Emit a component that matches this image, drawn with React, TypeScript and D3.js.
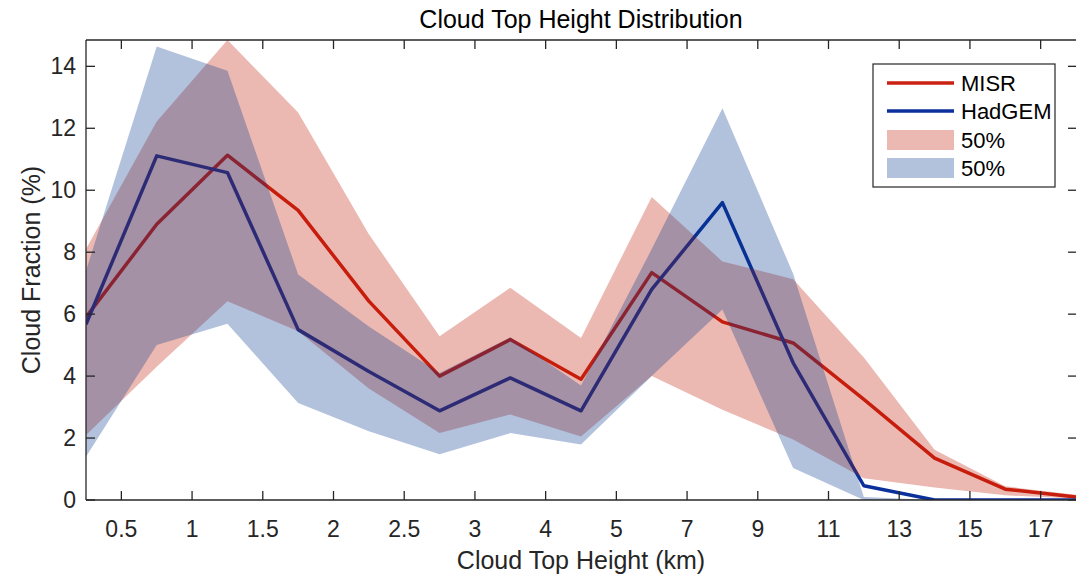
import React from 'react';
import * as d3 from 'd3';

// bin edges (index positions) where the values are plotted
const binIndex = [0, 1, 2, 3, 4, 5, 6, 7, 8, 9, 10, 11, 12, 13, 14];
// x tick positions (bin centres) and their labels (km)
const xTickPos = [0.5, 1.5, 2.5, 3.5, 4.5, 5.5, 6.5, 7.5, 8.5, 9.5, 10.5, 11.5, 12.5, 13.5];
const xTickLabels = ['0.5', '1', '1.5', '2', '2.5', '3', '4', '5', '7', '9', '11', '13', '15', '17'];
const yTicks = [0, 2, 4, 6, 8, 10, 12, 14];

// MISR
const misrMean = [5.9, 8.9, 11.13, 9.35, 6.42, 4.0, 5.18, 3.9, 7.34, 5.75, 5.07, 3.25, 1.35, 0.35, 0.1];
const misrHigh = [8.1, 12.22, 14.85, 12.51, 8.58, 5.29, 6.85, 5.23, 9.78, 7.7, 7.13, 4.6, 1.62, 0.44, 0.17];
const misrLow = [2.1, 4.3, 6.42, 5.45, 3.6, 2.16, 2.76, 2.05, 4.0, 2.91, 1.95, 0.7, 0.4, 0.15, 0.05];

// HadGEM
const hadMean = [5.67, 11.11, 10.57, 5.5, 4.15, 2.88, 3.94, 2.88, 6.8, 9.6, 4.43, 0.46, 0, 0, 0];
const hadHigh = [7.4, 14.64, 13.86, 7.28, 5.6, 4.1, 5.25, 3.7, 8.1, 12.65, 7.3, 0.1, 0, 0, 0];
const hadLow = [1.4, 5.0, 5.69, 3.13, 2.22, 1.48, 2.16, 1.79, 4.0, 6.15, 1.03, 0, 0, 0, 0];

const legendLabels = ['MISR', 'HadGEM', '50%', '50%'];

const RED_LINE = 'rgb(204,32,18)';
const BLUE_LINE = 'rgb(12,48,155)';
const RED_FILL = 'rgb(190,22,0)';
const BLUE_FILL = 'rgb(0,52,140)';
const FILL_ALPHA = 0.3;
const AX = '#262626';
const FONT = '"Liberation Sans", Arial, Helvetica, sans-serif';

export default function App() {
  const W = 1076;
  const H = 581;
  const left = 86;
  const right = 1076;
  const top = 40;
  const bottom = 500;
  const tickLen = 9;

  const x = d3.scaleLinear().domain([0, 14]).range([left, right]);
  const y = d3.scaleLinear().domain([0, 14.85]).range([bottom, top]);

  const line = d3
    .line<number>()
    .x((_, i) => x(binIndex[i]))
    .y((d) => y(d));

  const band = (lo: number[], hi: number[]) =>
    d3
      .area<number>()
      .x((_, i) => x(binIndex[i]))
      .y0((_, i) => y(lo[i]))
      .y1((d) => y(d))(hi) || '';

  const legX = 873;
  const legY = 64;
  const legW = 182;
  const legH = 123;
  const rowY = [83, 111, 140, 168];

  return (
    <svg
      width={W}
      height={H}
      style={{ position: 'absolute', left: 0, top: 0, display: 'block', background: '#fff' }}
      fontFamily={FONT}
    >
      <defs>
        <clipPath id="plotClip">
          <rect x={left} y={top} width={right - left + 2} height={bottom - top} />
        </clipPath>
      </defs>
      <rect x={0} y={0} width={W} height={H} fill="#fff" />

      <g clipPath="url(#plotClip)">
        {/* mean lines drawn beneath the translucent bands */}
        <path d={line(misrMean) || ''} fill="none" stroke={RED_LINE} strokeWidth={3.5} strokeLinejoin="round" />
        <path d={line(hadMean) || ''} fill="none" stroke={BLUE_LINE} strokeWidth={3.5} strokeLinejoin="round" />
        <path d={band(misrLow, misrHigh)} fill={RED_FILL} fillOpacity={FILL_ALPHA} />
        <path d={band(hadLow, hadHigh)} fill={BLUE_FILL} fillOpacity={FILL_ALPHA} />
      </g>

      {/* axes box */}
      <g stroke={AX} strokeWidth={1.3} fill="none">
        <line x1={left} y1={bottom} x2={right + 1} y2={bottom} />
        <line x1={left} y1={top} x2={right + 1} y2={top} />
        <line x1={left} y1={top} x2={left} y2={bottom} />
        <line x1={right + 1} y1={top} x2={right + 1} y2={bottom} />
        {xTickPos.map((t) => (
          <g key={'xt' + t}>
            <line x1={x(t)} x2={x(t)} y1={bottom} y2={bottom - tickLen} />
            <line x1={x(t)} x2={x(t)} y1={top} y2={top + tickLen} />
          </g>
        ))}
        {yTicks.map((t) => (
          <g key={'yt' + t}>
            <line x1={left} x2={left + tickLen} y1={y(t)} y2={y(t)} />
            <line x1={right + 1} x2={right + 1 - tickLen} y1={y(t)} y2={y(t)} />
          </g>
        ))}
      </g>

      {/* tick labels */}
      <g fill={AX} fontSize={23}>
        {xTickPos.map((t, i) => (
          <text key={'xl' + t} x={x(t)} y={537} textAnchor="middle">
            {xTickLabels[i]}
          </text>
        ))}
        {yTicks.map((t) => (
          <text key={'yl' + t} x={76} y={y(t)} dy="0.35em" textAnchor="end">
            {t}
          </text>
        ))}
      </g>

      {/* title and axis labels */}
      <text x={(left + right) / 2} y={28} textAnchor="middle" fontSize={25} fill="#000">
        Cloud Top Height Distribution
      </text>
      <text x={(left + right) / 2} y={569} textAnchor="middle" fontSize={25} fill={AX}>
        Cloud Top Height (km)
      </text>
      <text
        transform={`translate(40, ${(top + bottom) / 2}) rotate(-90)`}
        textAnchor="middle"
        fontSize={25}
        fill={AX}
      >
        Cloud Fraction (%)
      </text>

      {/* legend */}
      <g>
        <rect x={legX} y={legY} width={legW} height={legH} fill="#fff" stroke={AX} strokeWidth={1.2} />
        <line x1={887} x2={954} y1={rowY[0]} y2={rowY[0]} stroke={RED_LINE} strokeWidth={3.5} />
        <line x1={887} x2={954} y1={rowY[1]} y2={rowY[1]} stroke={BLUE_LINE} strokeWidth={3.5} />
        <rect x={887} y={rowY[2] - 10} width={67} height={20} fill={RED_FILL} fillOpacity={FILL_ALPHA} />
        <rect x={887} y={rowY[3] - 10} width={67} height={20} fill={BLUE_FILL} fillOpacity={FILL_ALPHA} />
        {legendLabels.map((l, i) => (
          <text key={'lg' + i} x={961} y={rowY[i]} dy="0.35em" fontSize={22} fill="#000">
            {l}
          </text>
        ))}
      </g>
    </svg>
  );
}
